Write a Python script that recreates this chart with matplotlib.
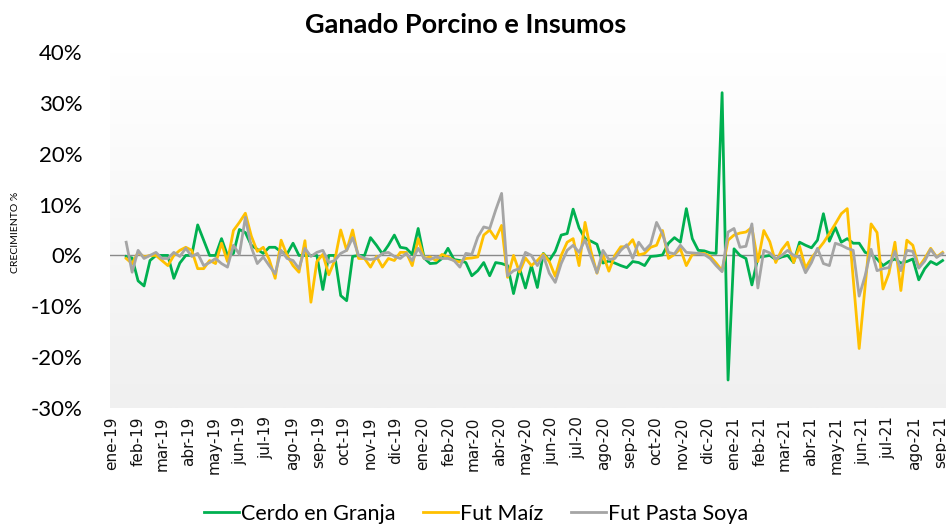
import matplotlib
matplotlib.use('Agg')
import matplotlib.pyplot as plt
import numpy as np
import pandas as pd

# semanas (viernes) desde mediados de enero 2019
start_date = '2019-01-18'

cerdo = [-0.2, -0.5, -5, -6, -1, 0, 0, 0, -4.5, -1.5,
         0, 0, 6, 3, 0, 0, 3.3, 0, 0.4, 5.1,
         4.5, 2, 1.2, 0.4, 1.6, 1.6, 0.7, 0.3, 2.4, 0,
         0, 0, 0, -6.7, 0, 0, -7.9, -8.9, -0.2, 0,
         0, 3.5, 2, 0.3, 2, 4, 1.6, 1.4, 0.2, 5.3,
         -0.5, -1.6, -1.5, -0.6, 1.4, -0.8, -1, -1.4, -4, -3,
         -1.4, -4, -1.4, -1.6, -2, -7.5, -2.5, -6.4, -2, -6.3,
         0.4, -1, 0.8, 4, 4.3, 9.1, 5.4, 3.3, 2.8, 2.2,
         -1.5, -1.1, -1.5, -2, -2.4, -1.2, -1.4, -2, -0.2, -0.1,
         0.1, 2.4, 3.5, 2.6, 9.2, 3.3, 1, 0.9, 0.5, 0.4,
         32, -24.5, 1.3, 0, -0.6, -5.8, -0.4, -0.2, 0, -0.8,
         -0.3, 0, -1.4, 2.6, 2, 1.5, 3, 8.2, 2.8, 5.5,
         2.6, 3.3, 2.4, 2.4, 0.6, 0.2, -0.7, -2, -1.2, -0.7,
         -1.5, -1.2, -0.7, -4.8, -2.6, -1.2, -1.8, -1]

maiz = [-0.6, -1.6, 0.6, -0.3, 0, 0, -1, -2, 0, 1,
        1.6, 1, -2.6, -2.6, -1, -1.6, 2.4, -1.2, 4.9, 6.5,
        8.3, 3.8, 0.8, 1.6, -0.8, -4.5, 3, 0, -2, -3.3,
        2.9, -9.2, -1.2, 0.2, -3.8, -1, 5, 1, 5, -0.6,
        -0.6, -2.3, -0.2, -2.3, -0.6, -1, 0.6, 0.6, -2, 3.3,
        -0.6, -0.3, -1, 0.2, -0.3, -1, -1.3, -0.6, -0.5, -0.3,
        4, 5, 3.3, 5.9, -4.3, 0, -3.3, -0.5, -2, -1,
        0.3, -1.2, -4.1, 0, 2.6, 3.3, -2, 6.5, 0.8, -3.5,
        0.2, -3.1, 0, 1.7, 1.7, 3.1, 0.1, 0.4, 1.6, 2,
        4.9, -0.6, 0.2, 1.3, -2, 0.2, 0.4, 0.4, -0.2, -1.5,
        -3, 3, 4, 4.4, 4.6, 5.5, -1.2, 4.9, 2.7, -1.4,
        1.1, 2.6, -1.4, 1.8, -2.5, -0.5, 1, 2.5, 4.3, 6.2,
        8.2, 9.2, -4.5, -18.3, -6, 6.2, 4.5, -6.6, -3.5, 2.6,
        -6.9, 3, 2, -2.3, -0.6, 1.4, -0.3, 0.6]

soya = [2.6, -3.3, 1, -0.6, 0, 0.6, -0.6, -0.6, 0.6, -0.2,
        1.4, -0.2, 0.4, -2, -1.4, -0.6, -1.6, -2.3, 2, 0.2,
        7.5, 1.6, -1.6, -0.3, -2, -3.6, 1, -0.6, -1, -2.6,
        1.4, -0.2, 0.6, 1, -1.4, -1, 0.4, 1, 3.5, 0,
        -0.6, -0.8, -0.6, 0.4, 0.6, -0.2, -0.6, 0.4, -1, 1.4,
        -0.6, -0.8, -0.3, -0.6, -0.6, -1, -2.3, 0.4, 0.2, 3.6,
        5.6, 5.3, 8.9, 12.2, -4, -3, -2.6, 0.6, 0, -2,
        0, -3.5, -5.3, -1.6, 1, 2, 0.6, 3.1, -0.3, -3.4,
        1, -0.8, -0.6, 1, 2.1, -0.6, 2.6, 1, 2.2, 6.5,
        4.2, 0.6, 0.3, 2, 0.6, 0.5, 0.4, 0.2, -0.6, -2,
        -3.2, 4.6, 5.3, 1.6, 1.8, 6.2, -6.4, 1, 0.5, -0.7,
        0, 1, 0, -0.4, -3.4, -1.4, 1.4, -1.6, -2, 2.4,
        2, 1.4, 1, -8, -4, 1.2, -3, -2.6, -2.4, 0.8,
        -3, 1, 0.8, -2.5, -1.1, 1.2, -0.4, 0.4]

meses = ['ene', 'feb', 'mar', 'abr', 'may', 'jun',
         'jul', 'ago', 'sep', 'oct', 'nov', 'dic']

fechas = pd.date_range(start_date, periods=len(cerdo), freq='7D')

fig = plt.figure(figsize=(9.46, 5.25), dpi=100)
ax = fig.add_axes([110 / 946, 1 - 408 / 525, 1 - 110 / 946, (408 - 52) / 525])

# fondo degradado del area de trazado
grad = np.linspace(1, 0, 256).reshape(-1, 1)
ax.imshow(grad, extent=[0, 1, 0, 1], transform=ax.transAxes, aspect='auto',
          cmap=matplotlib.colors.LinearSegmentedColormap.from_list('g', ['#F0F0F0', '#FFFFFF']),
          zorder=0)

ax.axhline(0, color='#898989', lw=1.0, zorder=1)
ax.plot(fechas, cerdo, color='#00B050', lw=2.0, label='Cerdo en Granja', zorder=3)
ax.plot(fechas, maiz, color='#FFC000', lw=2.0, label='Fut Maíz', zorder=3)
ax.plot(fechas, soya, color='#A5A5A5', lw=2.0, label='Fut Pasta Soya', zorder=3)

ax.set_ylim(-30, 40)
ax.set_yticks(range(-30, 41, 10))
ax.set_yticklabels([f'{v}%' for v in range(-30, 41, 10)], family='Lato', fontsize=16)
ax.tick_params(axis='y', length=0, pad=20)

ax.set_xlim(pd.Timestamp('2018-12-30'), pd.Timestamp('2021-09-07'))
ticks = pd.date_range('2019-01-01', '2021-09-01', freq='MS')
ax.set_xticks(ticks)
ax.set_xticklabels([f'{meses[t.month - 1]}-{t.year % 100}' for t in ticks],
                   rotation=90, fontsize=11, color='#111111')
ax.tick_params(axis='x', length=0, pad=6)

for s in ax.spines.values():
    s.set_visible(False)

fig.text(466 / 946, 1 - 25 / 525, 'Ganado Porcino e Insumos', ha='center', va='center',
         family='Lato', fontweight='bold', fontsize=19.5)
fig.text(15 / 946, 1 - 232 / 525, 'CRECIMIENTO %', rotation=90, ha='center', va='center',
         family='Lato', fontsize=7.5)

fig.legend(loc='center', bbox_to_anchor=(476 / 946, 1 - 514 / 525), ncol=3, frameon=False,
           prop={'family': 'Lato', 'size': 15.5}, handlelength=1.6, handletextpad=0.1,
           columnspacing=1.3)

fig.savefig('out.png', dpi=100)
